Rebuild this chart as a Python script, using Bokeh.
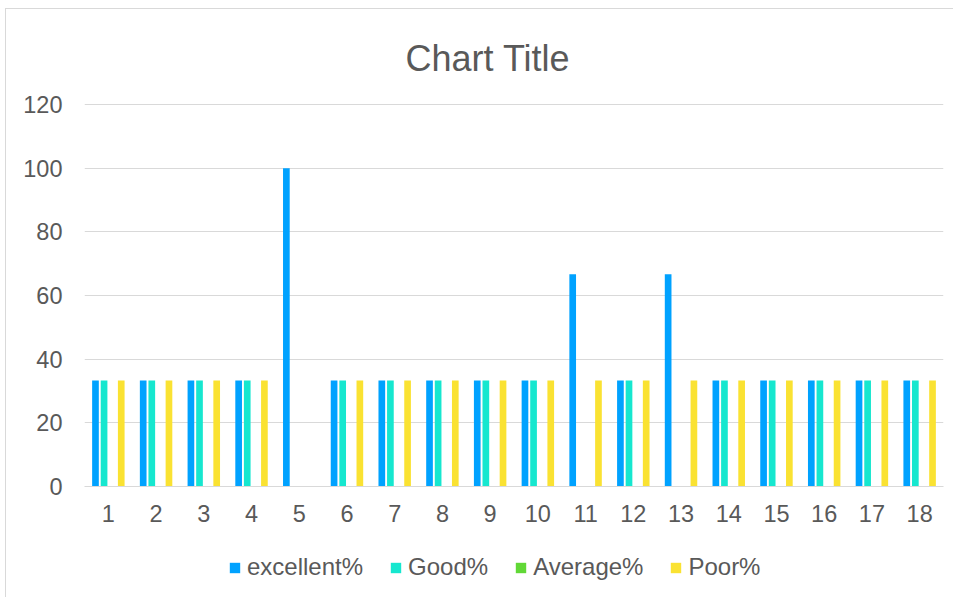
from bokeh.plotting import figure
from bokeh.models import Range1d, FixedTicker, Legend, LegendItem, ColumnDataSource
from bokeh.layouts import column
from bokeh.transform import dodge
from bokeh.embed import file_html
from bokeh.resources import INLINE

categories = list(range(1, 19))
excellent = [33.33, 33.33, 33.33, 33.33, 100, 33.33, 33.33, 33.33, 33.33,
             33.33, 66.67, 33.33, 66.67, 33.33, 33.33, 33.33, 33.33, 33.33]
good = [33.33, 33.33, 33.33, 33.33, 0, 33.33, 33.33, 33.33, 33.33,
        33.33, 0, 33.33, 0, 33.33, 33.33, 33.33, 33.33, 33.33]
average = [0] * 18
poor = [33.33, 33.33, 33.33, 33.33, 0, 33.33, 33.33, 33.33, 33.33,
        33.33, 33.33, 33.33, 33.33, 33.33, 33.33, 33.33, 33.33, 33.33]
series_names = ["excellent%", "Good%", "Average%", "Poor%"]
colors = ["#00A2FF", "#16E7CF", "#61D836", "#FAE232"]
y_ticks = [0, 20, 40, 60, 80, 100, 120]

src = ColumnDataSource(dict(x=categories, excellent=excellent, good=good,
                            average=average, poor=poor))

FONT = "Liberation Sans"
TXT = "#595959"
GRID = "#D9D9D9"

p = figure(frame_width=859, frame_height=383, output_backend="svg", toolbar_location=None,
           x_range=Range1d(0.5, 18.5), y_range=Range1d(0, 120.3),
           min_border_left=78, min_border_right=10, min_border_top=94,
           min_border_bottom=50)
p.outline_line_color = None

p.title.text = "Chart Title"
p.title.align = "left"
p.title.text_font = FONT
p.title.text_font_size = "36px"
p.title.text_font_style = "normal"
p.title.text_color = TXT
p.title.standoff = 50
p.title.offset = 321

cols = ["excellent", "good", "average", "poor"]
offsets = [-0.27, -0.09, 0.09, 0.27]
for c, off, col in zip(cols, offsets, colors):
    p.vbar(x=dodge("x", off), top=c, width=0.14, source=src,
           fill_color=col, line_color=None)

p.xaxis.ticker = FixedTicker(ticks=categories)
p.yaxis.ticker = FixedTicker(ticks=y_ticks)
for ax in (p.xaxis, p.yaxis):
    ax.major_tick_line_color = None
    ax.minor_tick_line_color = None
    ax.major_label_text_font = FONT
    ax.major_label_text_font_size = "23.5px"
    ax.major_label_text_color = TXT
    ax.major_tick_out = 0
    ax.major_tick_in = 0
p.yaxis.axis_line_color = None
p.xaxis.axis_line_color = GRID
p.xaxis.major_label_standoff = 18
p.yaxis.major_label_standoff = 22

p.xgrid.grid_line_color = None
p.ygrid.grid_line_color = GRID
p.ygrid.grid_line_width = 1

# legend strip below the chart
lg = figure(width=947, height=61, output_backend="svg", toolbar_location=None,
            x_range=Range1d(0, 1), y_range=Range1d(0, 1), min_border=0)
lg.axis.visible = False
lg.grid.visible = False
lg.outline_line_color = None
items = []
for n, col in zip(series_names, colors):
    r = lg.vbar(x=[-10], top=[0], width=0.1, fill_color=col, line_color=None)
    items.append(LegendItem(label=n, renderers=[r]))

legend = Legend(items=items, orientation="horizontal", location=(144, 16))
legend.label_text_font = FONT
legend.label_text_font_size = "24px"
legend.label_text_color = TXT
legend.glyph_width = 13
legend.glyph_height = 13
legend.label_standoff = 6
legend.spacing = 26
legend.border_line_color = None
legend.margin = 0
legend.padding = 2
legend.background_fill_alpha = 0
lg.add_layout(legend, "center")

layout = column(p, lg, margin=(8, 0, 0, 5),
                styles={"border-top": "1px solid #D9D9D9", "border-left": "1px solid #D9D9D9"})

open("out.html", "w").write(file_html(layout, INLINE))
